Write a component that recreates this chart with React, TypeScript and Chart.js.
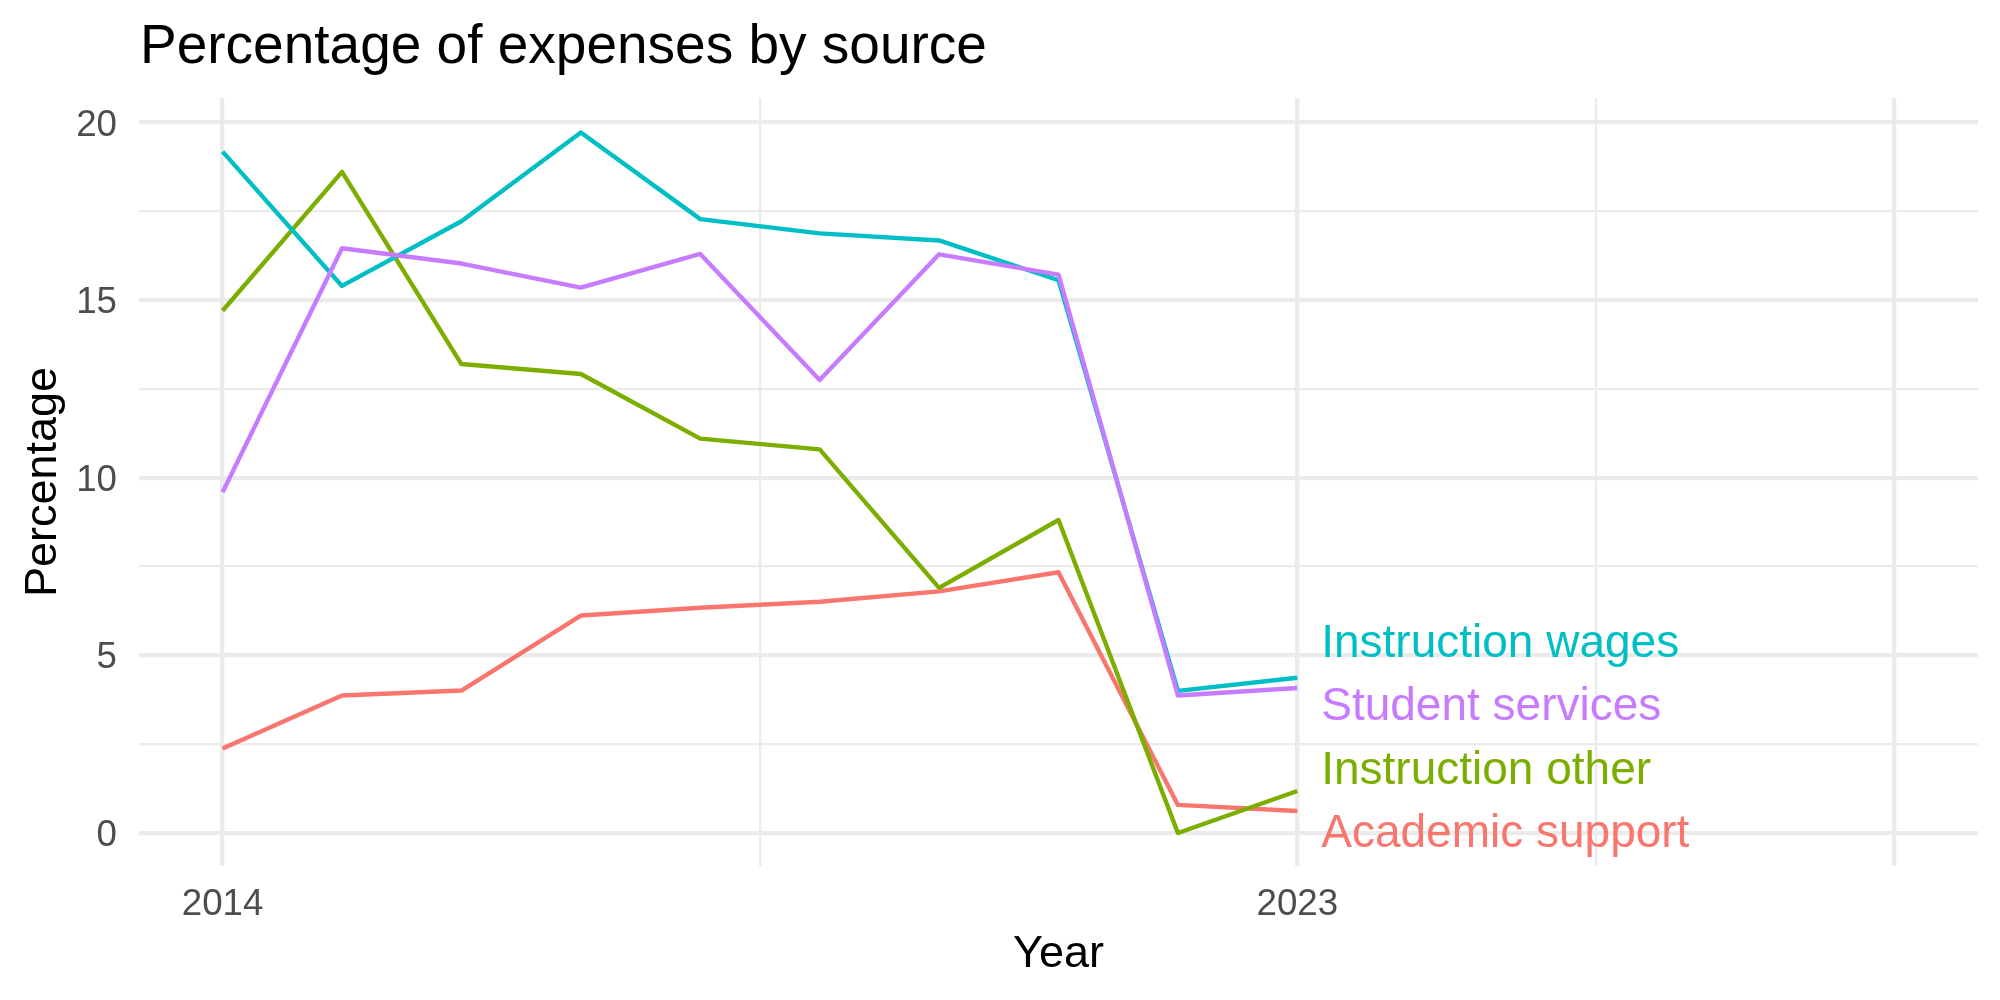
import React, { useEffect, useRef } from "react";
import { Chart, registerables } from "chart.js";

Chart.register(...registerables);

// Yearly share of expenses (%) for each source
const years = [2014, 2015, 2016, 2017, 2018, 2019, 2020, 2021, 2022, 2023];
const academicSupport = [2.38, 3.87, 4.01, 6.12, 6.34, 6.51, 6.8, 7.34, 0.79, 0.62];
const instructionOther = [14.7, 18.61, 13.2, 12.92, 11.1, 10.8, 6.9, 8.81, 0.0, 1.18];
const instructionWages = [19.18, 15.4, 17.22, 19.72, 17.28, 16.88, 16.68, 15.56, 4.0, 4.37];
const studentServices = [9.59, 16.46, 16.03, 15.35, 16.3, 12.75, 16.29, 15.72, 3.87, 4.08];

// Axis ticks and gridlines
const xTickLabels = [2014, 2023];
const xMajorBreaks = [2014, 2023, 2028];
const xMinorBreaks = [2018.5, 2025.5];
const yTickLabels = [0, 5, 10, 15, 20];
const yMinorBreaks = [2.5, 7.5, 12.5, 17.5];

// End-of-line labels (repelled apart vertically)
const labelYear = 2023.2;
const labelValues = [5.42, 3.65, 1.85, 0.06];

const TITLE = "Percentage of expenses by source";
const FONT = '"Liberation Sans", Arial, Helvetica, sans-serif';

// Drawing order: first entry ends up on top
const series = [
  { name: "Student services", color: "#C77CFF", values: studentServices, label: labelValues[1] },
  { name: "Instruction wages", color: "#00BFC4", values: instructionWages, label: labelValues[0] },
  { name: "Instruction other", color: "#7CAE00", values: instructionOther, label: labelValues[2] },
  { name: "Academic support", color: "#F8766D", values: academicSupport, label: labelValues[3] },
];

const GRID = "#EBEBEB";
const MAJOR_W = 4.3;
const MINOR_W = 2.2;

const textPlugin = {
  id: "chartText",
  afterDraw(chart: any) {
    const { ctx, chartArea } = chart;
    const x = chart.scales.x;
    const y = chart.scales.y;
    ctx.save();
    ctx.textBaseline = "alphabetic";

    // Title
    ctx.font = `55px ${FONT}`;
    ctx.fillStyle = "#000000";
    ctx.textAlign = "left";
    ctx.fillText(TITLE, chartArea.left + 1, 63);

    // Tick labels
    ctx.font = `36.7px ${FONT}`;
    ctx.fillStyle = "#4D4D4D";
    ctx.textAlign = "right";
    for (const v of yTickLabels) {
      ctx.fillText(String(v), chartArea.left - 22, y.getPixelForValue(v) + 13.1);
    }
    ctx.textAlign = "center";
    for (const v of xTickLabels) {
      ctx.fillText(String(v), x.getPixelForValue(v), chartArea.bottom + 49);
    }

    // Axis titles
    ctx.font = `45px ${FONT}`;
    ctx.fillStyle = "#000000";
    ctx.fillText("Year", (chartArea.left + chartArea.right) / 2, chartArea.bottom + 101);
    ctx.save();
    ctx.translate(56, (chartArea.top + chartArea.bottom) / 2);
    ctx.rotate(-Math.PI / 2);
    ctx.fillText("Percentage", 0, 0);
    ctx.restore();

    // Series labels
    ctx.font = `46px ${FONT}`;
    ctx.textAlign = "left";
    for (const s of series) {
      ctx.fillStyle = s.color;
      ctx.fillText(s.name, x.getPixelForValue(labelYear), y.getPixelForValue(s.label) + 16.4);
    }
    ctx.restore();
  },
};

export default function App() {
  const canvasRef = useRef<HTMLCanvasElement | null>(null);

  useEffect(() => {
    const canvas = canvasRef.current;
    if (!canvas) return;

    const datasets = series.map((s) => ({
      label: s.name,
      data: years.map((yr, i) => ({ x: yr, y: s.values[i] })),
      borderColor: s.color,
      backgroundColor: s.color,
      borderWidth: 4.4,
      borderJoinStyle: "round" as const,
      borderCapStyle: "butt" as const,
      pointRadius: 0,
      tension: 0,
      fill: false,
    }));

    const chart = new Chart(canvas, {
      type: "line",
      data: { datasets },
      options: {
        animation: false,
        responsive: false,
        maintainAspectRatio: false,
        events: [],
        layout: { padding: { top: 98, right: 22, left: 0, bottom: 0 } },
        plugins: {
          legend: { display: false },
          title: { display: false },
          tooltip: { enabled: false },
        },
        scales: {
          x: {
            type: "linear",
            min: 2013.3,
            max: 2028.7,
            afterBuildTicks: (scale: any) => {
              scale.ticks = [...xMajorBreaks, ...xMinorBreaks]
                .sort((a, b) => a - b)
                .map((v) => ({ value: v }));
            },
            afterFit: (scale: any) => {
              scale.height = 134;
            },
            ticks: { display: false },
            border: { display: false },
            grid: {
              color: GRID,
              drawTicks: false,
              lineWidth: (ctx: any) =>
                xMajorBreaks.includes(ctx.tick?.value) ? MAJOR_W : MINOR_W,
            },
          },
          y: {
            type: "linear",
            min: -0.93,
            max: 20.69,
            afterBuildTicks: (scale: any) => {
              scale.ticks = [...yTickLabels, ...yMinorBreaks]
                .sort((a, b) => a - b)
                .map((v) => ({ value: v }));
            },
            afterFit: (scale: any) => {
              scale.width = 139;
            },
            ticks: { display: false },
            border: { display: false },
            grid: {
              color: GRID,
              drawTicks: false,
              lineWidth: (ctx: any) =>
                yTickLabels.includes(ctx.tick?.value) ? MAJOR_W : MINOR_W,
            },
          },
        },
      },
      plugins: [textPlugin],
    });

    return () => chart.destroy();
  }, []);

  return (
    <div
      style={{
        position: "absolute",
        left: 0,
        top: 0,
        width: 2000,
        height: 1000,
        background: "#FFFFFF",
      }}
    >
      <canvas
        ref={canvasRef}
        width={2000}
        height={1000}
        style={{ width: 2000, height: 1000, display: "block" }}
      />
    </div>
  );
}
